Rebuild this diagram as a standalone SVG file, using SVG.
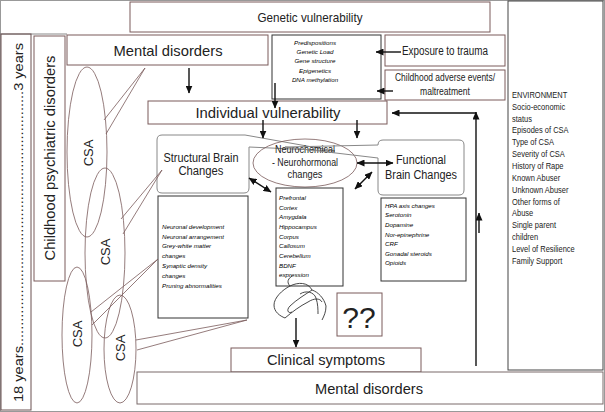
<svg xmlns="http://www.w3.org/2000/svg" width="605" height="412" viewBox="0 0 605 412">
<style>
text{font-family:"Liberation Sans",Arial,sans-serif;fill:#222}
.bx{fill:#fff;stroke:#7a5a5a;stroke-width:1}
.bk{fill:#fff;stroke:#333;stroke-width:1}
.gr{fill:none;stroke:#888;stroke-width:1}
.el{fill:none;stroke:#7a5a5a;stroke-width:0.8}
.ar{stroke:#111;stroke-width:1.4;fill:none}
.it{font-style:italic;font-size:6.2px;fill:#000}
.env{font-size:8.5px;fill:#111}
</style>
<defs>
<marker id="ah" markerUnits="userSpaceOnUse" markerWidth="8" markerHeight="7" refX="7.5" refY="3.5" orient="auto-start-reverse"><path d="M0,0 L8,3.5 L0,7 z" fill="#111"/></marker>
</defs>
<rect x="0.5" y="0.5" width="604" height="411" fill="#fff" stroke="#999"/>
<line x1="0" y1="34" x2="67" y2="34" stroke="#888"/>

<g id="age-axis">
<rect x="1" y="34" width="30" height="376" fill="none" stroke="#6a5050"/>
<text transform="translate(23,402) rotate(-90)" font-size="13" textLength="359" lengthAdjust="spacingAndGlyphs">18 years...............................................................3 years</text>
</g>
<g id="childhood-psych">
<rect x="34" y="36" width="31" height="245" class="bx"/>
<text transform="translate(55,158) rotate(-90)" font-size="15" text-anchor="middle" textLength="205" lengthAdjust="spacingAndGlyphs">Childhood psychiatric disorders</text>
</g>
<g id="genetic-vulnerability">
<rect x="130" y="2" width="360" height="30" class="bx"/>
<text x="310" y="22" font-size="13.5" text-anchor="middle" textLength="105" lengthAdjust="spacingAndGlyphs">Genetic vulnerability</text>
</g>
<g id="environment">
<rect x="508" y="1" width="95" height="369" fill="#fff" stroke="#444"/>
<g transform="translate(512,0) scale(0.88,1)" class="env">
<text x="0" y="98" font-size="8.5">ENVIRONMENT</text>
<text x="0" y="110" font-size="8.5">Socio-economic</text>
<text x="0" y="122" font-size="8.5">status</text>
<text x="0" y="133" font-size="8.5">Episodes of CSA</text>
<text x="0" y="145" font-size="8.5">Type of CSA</text>
<text x="0" y="157" font-size="8.5">Severity of CSA</text>
<text x="0" y="169" font-size="8.5">History of Rape</text>
<text x="0" y="181" font-size="8.5">Known Abuser</text>
<text x="0" y="193" font-size="8.5">Unknown Abuser</text>
<text x="0" y="205" font-size="8.5">Other forms of</text>
<text x="0" y="216" font-size="8.5">Abuse</text>
<text x="0" y="228" font-size="8.5">Single parent</text>
<text x="0" y="240" font-size="8.5">children</text>
<text x="0" y="252" font-size="8.5">Level of Resilience</text>
<text x="0" y="264" font-size="8.5">Family Support</text>
</g>
</g>
<g id="mental-disorders-top">
<rect x="67" y="35" width="201" height="30" class="bx"/>
<text x="168" y="56" font-size="14.5" text-anchor="middle" textLength="109" lengthAdjust="spacingAndGlyphs">Mental disorders</text>
</g>
<g id="genetic-factors">
<rect x="272" y="35" width="109" height="64" class="bk"/>
<text x="315" y="45" class="it" text-anchor="middle">Predispositions</text>
<text x="315" y="54" class="it" text-anchor="middle">Genetic Load</text>
<text x="315" y="63" class="it" text-anchor="middle">Gene structure</text>
<text x="315" y="73" class="it" text-anchor="middle">Epigenetics</text>
<text x="315" y="82" class="it" text-anchor="middle">DNA methylation</text>
</g>
<g id="exposure-trauma">
<rect x="385" y="35" width="120" height="31" class="bx"/>
<text x="445" y="55" font-size="12" text-anchor="middle" textLength="86" lengthAdjust="spacingAndGlyphs">Exposure to trauma</text>
</g>
<g id="childhood-adverse">
<rect x="385" y="70" width="120" height="30" class="bx"/>
<text x="445" y="81" font-size="10" text-anchor="middle" textLength="100" lengthAdjust="spacingAndGlyphs">Childhood adverse events/</text>
<text x="445" y="95" font-size="10" text-anchor="middle" textLength="50" lengthAdjust="spacingAndGlyphs">maltreatment</text>
</g>
<g id="individual-vulnerability">
<rect x="148" y="101" width="239" height="23" class="bx"/>
<text x="268" y="118" font-size="14.5" text-anchor="middle" textLength="145" lengthAdjust="spacingAndGlyphs">Individual vulnerability</text>
</g>
<g id="structural">
<path d="M162,135 L245,135 L335,151 L249,147 L249,188 Q249,193 244,193 L162,193 Q157,193 157,188 L157,140 Q157,135 162,135 Z" class="gr"/>
<text x="201" y="162" font-size="12" text-anchor="middle" textLength="75" lengthAdjust="spacingAndGlyphs">Structural Brain</text>
<text x="201" y="175" font-size="12" text-anchor="middle" textLength="45" lengthAdjust="spacingAndGlyphs">Changes</text>
</g>
<g id="neurochemical">
<ellipse cx="305" cy="163" rx="52" ry="24" class="el"/>
<text x="305" y="153" font-size="10" text-anchor="middle" textLength="60" lengthAdjust="spacingAndGlyphs">Neurochemical</text>
<text x="305" y="166" font-size="10" text-anchor="middle" textLength="66" lengthAdjust="spacingAndGlyphs">- Neurohormonal</text>
<text x="305" y="178" font-size="10" text-anchor="middle" textLength="35" lengthAdjust="spacingAndGlyphs">changes</text>
</g>
<g id="functional">
<path d="M383,140 L459,140 Q464,140 464,145 L464,190 Q464,195 459,195 L383,195 Q378,195 378,190 L378,158 L285,147 L378,145 Q378,140 383,140 Z" class="gr"/>
<text x="421" y="164" font-size="12" text-anchor="middle" textLength="50" lengthAdjust="spacingAndGlyphs">Functional</text>
<text x="421" y="179" font-size="12" text-anchor="middle" textLength="72" lengthAdjust="spacingAndGlyphs">Brain Changes</text>
</g>
<g id="structural-list">
<rect x="158" y="196" width="90" height="122" class="bk"/>
<text x="162" y="229" class="it">Neuronal development</text>
<text x="162" y="239" class="it">Neuronal arrangement</text>
<text x="162" y="248" class="it">Grey-white matter</text>
<text x="162" y="258" class="it">changes</text>
<text x="162" y="268" class="it">Synaptic density</text>
<text x="162" y="278" class="it">changes</text>
<text x="162" y="288" class="it">Pruning abnormalities</text>
</g>
<g id="regions-list">
<rect x="276" y="188" width="67" height="98" class="bk"/>
<text x="279" y="200" class="it">Prefrontal</text>
<text x="279" y="210" class="it">Cortex</text>
<text x="279" y="219" class="it">Amygdala</text>
<text x="279" y="229" class="it">Hippocampus</text>
<text x="279" y="239" class="it">Corpus</text>
<text x="279" y="248" class="it">Callosum</text>
<text x="279" y="258" class="it">Cerebellum</text>
<text x="279" y="268" class="it">BDNF</text>
<text x="279" y="277" class="it">expression</text>
</g>
<g id="functional-list">
<rect x="381" y="198" width="85" height="83" class="bk"/>
<text x="385" y="208" class="it">HPA axis changes</text>
<text x="385" y="217" class="it">Serotonin</text>
<text x="385" y="227" class="it">Dopamine</text>
<text x="385" y="237" class="it">Nor-epinephrine</text>
<text x="385" y="246" class="it">CRF</text>
<text x="385" y="256" class="it">Gonadal steroids</text>
<text x="385" y="265" class="it">Opioids</text>
</g>
<g id="knot" fill="none" stroke="#333" stroke-width="0.9">
<path d="M292,276 C286,280 288,284 290,286 C282,290 274,298 274,305 C274,312 280,316 285,318 C292,312 300,306 308,302 C314,298 320,298 322,302"/>
<path d="M290,286 C298,282 308,282 312,290 C306,294 296,300 290,306 C286,310 288,314 292,312"/>
<path d="M312,290 C318,292 324,298 326,306 C326,312 324,316 322,320"/>
<path d="M300,294 C306,290 314,292 316,298 C318,304 318,310 318,314"/>
</g>
<g id="question">
<rect x="337" y="293" width="45" height="43" class="bx"/>
<text x="359" y="328" font-size="30" text-anchor="middle">??</text>
</g>
<g id="clinical-symptoms">
<rect x="231" y="348" width="190" height="24" class="bx"/>
<text x="326" y="365" font-size="14.5" text-anchor="middle" textLength="118" lengthAdjust="spacingAndGlyphs">Clinical symptoms</text>
</g>
<g id="mental-disorders-bottom">
<rect x="137" y="372" width="466" height="32" fill="#fff" stroke="#7a6a6a"/>
<text x="369" y="394" font-size="14.5" text-anchor="middle" textLength="108" lengthAdjust="spacingAndGlyphs">Mental disorders</text>
</g>
<g id="csa-1">
<ellipse cx="87" cy="152" rx="20" ry="85" class="el"/>
<path d="M104,120 L145,68 L106,134" class="el"/>
<text transform="translate(93,153) rotate(-90)" font-size="13" text-anchor="middle">CSA</text>
</g>
<g id="csa-2">
<ellipse cx="105" cy="253" rx="20" ry="85" class="el"/>
<path d="M121,219 L162,170 L123,234" class="el"/>
<text transform="translate(110,252) rotate(-90)" font-size="13" text-anchor="middle">CSA</text>
</g>
<g id="csa-3">
<ellipse cx="77" cy="335" rx="15" ry="68" class="el"/>
<path d="M91,312 L158,259 L92,325" class="el"/>
<text transform="translate(82,334) rotate(-90)" font-size="13" text-anchor="middle">CSA</text>
</g>
<g id="csa-4">
<ellipse cx="120" cy="349" rx="16" ry="54" class="el"/>
<path d="M136,340 L247,320 L137,350" class="el"/>
<text transform="translate(125,348) rotate(-90)" font-size="13" text-anchor="middle">CSA</text>
</g>
<g id="connectors">
<line x1="189" y1="68" x2="189" y2="93" class="ar" marker-end="url(#ah)"/>
<line x1="275" y1="83" x2="275" y2="108" class="ar" marker-end="url(#ah)"/>
<line x1="401" y1="52" x2="376" y2="52" class="ar" marker-end="url(#ah)"/>
<line x1="393" y1="91" x2="377" y2="91" class="ar" marker-end="url(#ah)"/>
<line x1="263" y1="120" x2="263" y2="138" class="ar" marker-end="url(#ah)"/>
<line x1="357" y1="120" x2="357" y2="138" class="ar" marker-end="url(#ah)"/>
<line x1="476" y1="366" x2="476" y2="112" class="ar" marker-end="url(#ah)"/>
<line x1="476" y1="113" x2="392" y2="113" class="ar" marker-end="url(#ah)"/>
<line x1="479" y1="233" x2="479" y2="213" class="ar" stroke-width="1" marker-end="url(#ah)"/>
<line x1="357" y1="163" x2="393" y2="163" class="ar" marker-start="url(#ah)" marker-end="url(#ah)"/>
<line x1="249" y1="178" x2="271" y2="192" class="ar" marker-start="url(#ah)" marker-end="url(#ah)"/>
<line x1="372" y1="172" x2="355" y2="189" class="ar" marker-start="url(#ah)" marker-end="url(#ah)"/>
<line x1="296" y1="318" x2="296" y2="347" class="ar" stroke-width="1" marker-end="url(#ah)"/>
</g>
</svg>
